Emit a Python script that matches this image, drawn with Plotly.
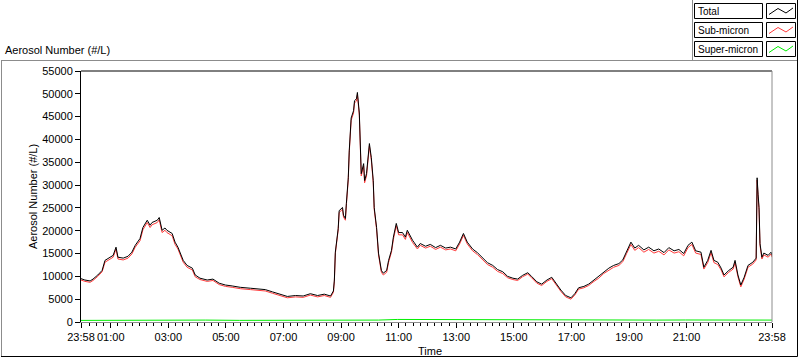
import plotly.graph_objects as go

# ---- data -------------------------------------------------------------
# minutes after the start time 23:58
minutes = [0, 8, 19, 25, 35, 44, 50, 61, 67, 73,
           77, 88, 98, 106, 113, 123, 129, 138, 144, 148,
           154, 159, 163, 169, 175, 179, 190, 196, 202, 213,
           221, 232, 238, 248, 263, 275, 288, 301, 315, 332,
           353, 369, 384, 399, 415, 430, 447, 463, 478, 493,
           507, 520, 526, 528, 530, 532, 536, 538, 545, 547,
           551, 553, 557, 559, 563, 568, 570, 574, 576, 580,
           582, 584, 589, 591, 595, 599, 601, 605, 609, 611,
           616, 620, 626, 630, 637, 641, 647, 651, 657, 662,
           670, 676, 680, 691, 701, 707, 718, 728, 739, 749,
           760, 770, 781, 789, 797, 805, 816, 826, 837, 847,
           858, 868, 879, 889, 900, 910, 920, 931, 939, 950,
           960, 971, 981, 989, 1000, 1010, 1021, 1029, 1037, 1048,
           1058, 1069, 1079, 1089, 1100, 1110, 1121, 1129, 1137, 1146,
           1154, 1162, 1173, 1183, 1194, 1204, 1215, 1225, 1236, 1246,
           1256, 1265, 1273, 1281, 1292, 1298, 1306, 1313, 1319, 1327,
           1334, 1340, 1350, 1359, 1363, 1369, 1375, 1382, 1390, 1400,
           1407, 1409, 1411, 1413, 1415, 1419, 1423, 1432, 1438, 1440]

total = [9500, 9200, 9000, 9400, 10300, 11300, 13500, 14200, 14600, 16400,
         14200, 14000, 14400, 15300, 16800, 18300, 20700, 22300, 21200, 21800,
         22000, 22300, 22900, 20100, 20600, 20100, 19400, 17500, 16400, 13500,
         12400, 11800, 10300, 9600, 9200, 9400, 8500, 8100, 7900, 7600,
         7400, 7300, 7100, 6600, 6000, 5600, 5800, 5700, 6200, 5800,
         6100, 5700, 6800, 9200, 15300, 17200, 20500, 24400, 25100, 23400,
         22700, 26000, 31600, 37500, 44700, 46300, 48500, 48900, 50300, 45800,
         39100, 32500, 34700, 31000, 32500, 36900, 39100, 36000, 31000, 25100,
         20700, 15100, 11300, 10700, 11300, 13500, 15700, 18600, 21600, 19600,
         19600, 18600, 20100, 17900, 16400, 17200, 16600, 17000, 16300, 16800,
         16200, 16400, 16000, 17500, 19400, 17500, 16000, 15200, 14000, 13000,
         12400, 11500, 11000, 10000, 9600, 9400, 10200, 10800, 10000, 8800,
         8300, 9200, 9800, 8600, 7000, 5800, 5300, 6200, 7500, 7800,
         8300, 9200, 10000, 11000, 11800, 12400, 12800, 13600, 15400, 17500,
         16200, 16800, 15800, 16400, 15600, 16000, 15200, 16300, 15600, 15900,
         15000, 16800, 17500, 15600, 15300, 12000, 13500, 15700, 13500, 13100,
         11800, 10300, 11300, 12000, 13500, 10300, 8100, 9800, 12400, 13100,
         14000, 31600, 28000, 25100, 17200, 14200, 15100, 14600, 15300, 14600]

sub_micron = [9200, 8900, 8700, 9100, 10000, 11000, 13100, 13800, 14200, 16000,
              13800, 13600, 14000, 14900, 16400, 17800, 20200, 21800, 20700, 21300,
              21500, 21800, 22400, 19600, 20100, 19600, 18900, 17000, 16000, 13100,
              12000, 11400, 9900, 9300, 8900, 9100, 8200, 7800, 7600, 7300,
              7100, 7000, 6800, 6300, 5700, 5300, 5500, 5400, 5900, 5500,
              5800, 5400, 6500, 8900, 15000, 16900, 20200, 24000, 24700, 23000,
              22300, 25600, 31200, 37100, 44200, 45800, 48000, 48400, 49800, 45300,
              38600, 32000, 34200, 30500, 32000, 36400, 38600, 35500, 30500, 24700,
              20300, 14700, 10900, 10300, 10900, 13100, 15300, 18100, 21100, 19100,
              19100, 18100, 19600, 17400, 16000, 16800, 16200, 16600, 15900, 16400,
              15800, 16000, 15600, 17100, 19000, 17100, 15600, 14800, 13600, 12600,
              12000, 11100, 10600, 9700, 9300, 9100, 9900, 10500, 9700, 8500,
              8000, 8900, 9500, 8300, 6700, 5500, 5000, 5900, 7200, 7500,
              8000, 8900, 9600, 10600, 11400, 12000, 12400, 13200, 15000, 17000,
              15700, 16300, 15300, 15900, 15100, 15500, 14700, 15800, 15100, 15400,
              14500, 16300, 17000, 15100, 14800, 11600, 13000, 15200, 13000, 12600,
              11400, 9900, 10900, 11600, 13000, 9900, 7700, 9400, 12000, 12700,
              13600, 31100, 27500, 24600, 16800, 13800, 14700, 14200, 14900, 14200]

super_minutes = [0, 60, 120, 150, 200, 260, 330, 420, 500, 560,
                 620, 660, 720, 780, 840, 900, 960, 1020, 1080, 1140,
                 1200, 1260, 1320, 1380, 1440]
super_micron = [350, 360, 380, 520, 480, 420, 360, 340, 330, 380,
                420, 560, 540, 520, 480, 420, 380, 360, 400, 450,
                420, 440, 430, 460, 420]

x_tick_minutes = [0, 62, 182, 302, 422, 542, 662, 782, 902, 1022, 1142, 1262, 1440]
x_tick_labels = ["23:58", "01:00", "03:00", "05:00", "07:00", "09:00", "11:00",
                 "13:00", "15:00", "17:00", "19:00", "21:00", "23:58"]
y_ticks = [0, 5000, 10000, 15000, 20000, 25000, 30000, 35000, 40000, 45000, 50000, 55000]

series_names = ["Total", "Sub-micron", "Super-micron"]
series_colors = ["#000000", "#ff3a3a", "#00ee00"]

assert len(minutes) == len(total) == len(sub_micron)

# ---- layout geometry (pixels) ------------------------------------------
W, H = 800, 361
L, R, T, B = 81, 28, 71, 39
PW, PH = W - L - R, H - T - B


def px(x):
    return (x - L) / PW


def py(y):
    return (H - B - y) / PH


FONT = "Liberation Sans, Arial, sans-serif"

fig = go.Figure()
fig.add_trace(go.Scatter(x=super_minutes, y=super_micron, mode="lines",
                         line=dict(color=series_colors[2], width=1),
                         name=series_names[2], showlegend=False))
fig.add_trace(go.Scatter(x=minutes, y=sub_micron, mode="lines",
                         line=dict(color=series_colors[1], width=1),
                         name=series_names[1], showlegend=False))
fig.add_trace(go.Scatter(x=minutes, y=total, mode="lines",
                         line=dict(color=series_colors[0], width=1),
                         name=series_names[0], showlegend=False))

shapes = []
line_black = dict(color="#000000", width=1)
line_gray = dict(color="#8c8c8c", width=1)
# plot border: top black, right gray
shapes.append(dict(type="line", xref="paper", yref="paper", x0=0, x1=1, y0=1, y1=1, line=line_black))
shapes.append(dict(type="line", xref="paper", yref="paper", x0=1, x1=1, y0=0, y1=1, line=line_gray))
# outer frame
shapes.append(dict(type="line", xref="paper", yref="paper", x0=px(1), x1=px(797.5),
                   y0=py(60.5), y1=py(60.5), line=line_gray))
shapes.append(dict(type="line", xref="paper", yref="paper", x0=px(1.5), x1=px(1.5),
                   y0=py(60.5), y1=py(356.5), line=line_gray))
shapes.append(dict(type="line", xref="paper", yref="paper", x0=px(1), x1=px(797.5),
                   y0=py(356.5), y1=py(356.5), line=line_black))
shapes.append(dict(type="line", xref="paper", yref="paper", x0=px(797.5), x1=px(797.5),
                   y0=py(0), y1=py(356.5), line=line_black))
shapes.append(dict(type="line", xref="paper", yref="paper", x0=px(692.5), x1=px(692.5),
                   y0=py(0), y1=py(60.5), line=line_gray))

annotations = []
# legend
box_tops = [3.5, 22.5, 41.5]
box_h = 15
for name, color, top in zip(series_names, series_colors, box_tops):
    shapes.append(dict(type="rect", xref="paper", yref="paper",
                       x0=px(694.5), x1=px(762.5), y0=py(top), y1=py(top + box_h),
                       line=line_black, fillcolor="white"))
    shapes.append(dict(type="rect", xref="paper", yref="paper",
                       x0=px(766.5), x1=px(795.5), y0=py(top), y1=py(top + box_h),
                       line=line_black, fillcolor="white"))
    pts = [(769, top + 11), (778, top + 5), (786, top + 9.5), (793, top + 4.5)]
    path = "M " + " L ".join(f"{px(a):.5f},{py(b):.5f}" for a, b in pts)
    shapes.append(dict(type="path", xref="paper", yref="paper", path=path,
                       line=dict(color=color, width=1)))
    annotations.append(dict(xref="paper", yref="paper", x=px(696), y=py(top + box_h / 2 + 0.5),
                            xanchor="left", yanchor="middle", showarrow=False, text=name,
                            font=dict(family=FONT, size=10, color="black")))

annotations.append(dict(xref="paper", yref="paper", x=px(3), y=py(50), xanchor="left",
                        yanchor="middle", showarrow=False, text="Aerosol Number (#/L)",
                        font=dict(family=FONT, size=11, color="black")))
annotations.append(dict(xref="paper", yref="paper", x=px(33), y=py(196), xanchor="center",
                        yanchor="middle", showarrow=False, text="Aerosol Number (#/L)",
                        textangle=-90, font=dict(family=FONT, size=11, color="black")))
annotations.append(dict(xref="paper", yref="paper", x=px(430), y=py(351), xanchor="center",
                        yanchor="middle", showarrow=False, text="Time",
                        font=dict(family=FONT, size=11, color="black")))

fig.update_layout(
    width=W, height=H,
    margin=dict(l=L, r=R, t=T, b=B, pad=0),
    paper_bgcolor="white", plot_bgcolor="white",
    showlegend=False,
    font=dict(family=FONT, size=11, color="black"),
    shapes=shapes, annotations=annotations,
    xaxis=dict(range=[0, 1440], tickmode="array", tickvals=x_tick_minutes,
               ticktext=x_tick_labels, ticks="outside", ticklen=5, tickcolor="#000000",
               showgrid=False, zeroline=False, showline=True, linecolor="#8c8c8c",
               linewidth=1, tickfont=dict(family=FONT, size=11, color="black"),
               minor=dict(tickmode="linear", tick0=2, dtick=15, ticks="outside",
                          ticklen=3, tickcolor="#000000", showgrid=False)),
    yaxis=dict(range=[0, 55000], tickmode="array", tickvals=y_ticks,
               ticktext=[str(v) for v in y_ticks], ticks="outside", ticklen=5,
               tickcolor="#000000", showgrid=False, zeroline=False, showline=True,
               linecolor="#000000", linewidth=1,
               tickfont=dict(family=FONT, size=11, color="black")),
)

fig.write_html(
    "out.html",
    config={"displayModeBar": False},
    post_script="document.body.style.margin='0';document.body.style.padding='0';"
                "document.body.style.overflow='hidden';",
)
